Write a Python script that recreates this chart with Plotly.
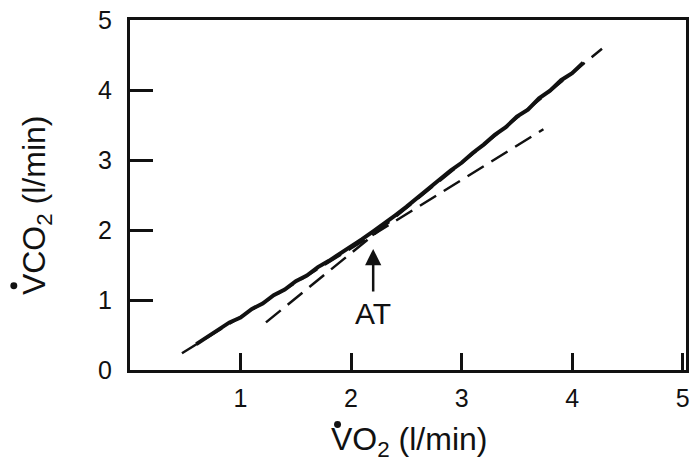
import plotly.graph_objects as go

# measured data: VO2 (l/min) vs VCO2 (l/min)
vo2 = [0.60, 0.70, 0.80, 0.90, 1.00, 1.10, 1.20, 1.30, 1.40, 1.50,
       1.60, 1.70, 1.80, 1.90, 2.00, 2.10, 2.20, 2.30, 2.40, 2.50,
       2.60, 2.70, 2.80, 2.90, 3.00, 3.10, 3.20, 3.30, 3.40, 3.50,
       3.60, 3.70, 3.80, 3.90, 4.00, 4.10]
vco2 = [0.37, 0.47, 0.57, 0.68, 0.75, 0.87, 0.95, 1.07, 1.15, 1.27,
        1.35, 1.47, 1.56, 1.66, 1.77, 1.87, 1.98, 2.09, 2.21, 2.33,
        2.46, 2.59, 2.71, 2.85, 2.96, 3.10, 3.22, 3.36, 3.47, 3.62,
        3.72, 3.88, 3.99, 4.14, 4.24, 4.39]

# fitted lines (V-slope method)
s1_x = [0.47, 3.74]
s1_y = [0.24, 3.44]
s2_x = [1.23, 4.27]
s2_y = [0.68, 4.59]

at_x = 2.2
at_tip_y = 1.73
at_label_y = 0.81

FONT = "Liberation Sans, Arial, sans-serif"

fig = go.Figure()
fig.add_trace(go.Scatter(x=s1_x, y=s1_y, mode="lines",
                         line=dict(color="#111", width=2.5, dash="19px,9px"),
                         showlegend=False))
fig.add_trace(go.Scatter(x=s2_x, y=s2_y, mode="lines",
                         line=dict(color="#111", width=2.5, dash="19px,9px"),
                         showlegend=False))
fig.add_trace(go.Scatter(x=vo2, y=vco2, mode="lines",
                         line=dict(color="#111", width=4),
                         showlegend=False))

fig.add_annotation(x=at_x, y=at_tip_y, xref="x", yref="y", text="",
                   showarrow=True, ax=0, ay=44, axref="pixel", ayref="pixel",
                   arrowhead=2, arrowsize=1.3, arrowwidth=2.5, arrowcolor="#111")
fig.add_annotation(x=at_x, y=at_label_y, xref="x", yref="y", text="AT",
                   showarrow=False, font=dict(size=30, color="#111"))

fig.add_annotation(x=0.502, y=-0.204, xref="paper", yref="paper",
                   xanchor="center", yanchor="middle",
                   text="VO<sub>2</sub> (l/min)", showarrow=False,
                   font=dict(size=32, color="#111"))
fig.add_annotation(x=-0.168, y=0.47, xref="paper", yref="paper",
                   xanchor="center", yanchor="middle",
                   text="VCO<sub>2</sub> (l/min)", showarrow=False,
                   textangle=-90, font=dict(size=32, color="#111"))

# the "rate" dots above the V of each axis title
fig.add_shape(type="circle", xref="paper", yref="paper",
              x0=0.3670, x1=0.3795, y0=-0.1657, y1=-0.1459,
              fillcolor="#111", line=dict(width=0))
fig.add_shape(type="circle", xref="paper", yref="paper",
              x0=-0.2152, x1=-0.2027, y0=0.2309, y1=0.2507,
              fillcolor="#111", line=dict(width=0))

axis_common = dict(showgrid=False, zeroline=False, showline=True,
                   linecolor="#111", linewidth=3, mirror=True,
                   ticks="inside", tickcolor="#111", tickwidth=3,
                   tickfont=dict(size=25, color="#111", family=FONT))

fig.update_layout(
    width=696, height=466,
    margin=dict(l=130, r=6, t=17, b=96),
    paper_bgcolor="white", plot_bgcolor="white",
    font=dict(family=FONT, color="#111"),
    xaxis=dict(range=[0, 5.03], tickvals=[1, 2, 3, 4, 5], ticklen=17,
               ticklabelstandoff=4, **axis_common),
    yaxis=dict(range=[0, 5], tickvals=[0, 1, 2, 3, 4, 5], ticklen=23,
               ticklabelstandoff=10, **axis_common),
)

fig.write_html("out.html")
